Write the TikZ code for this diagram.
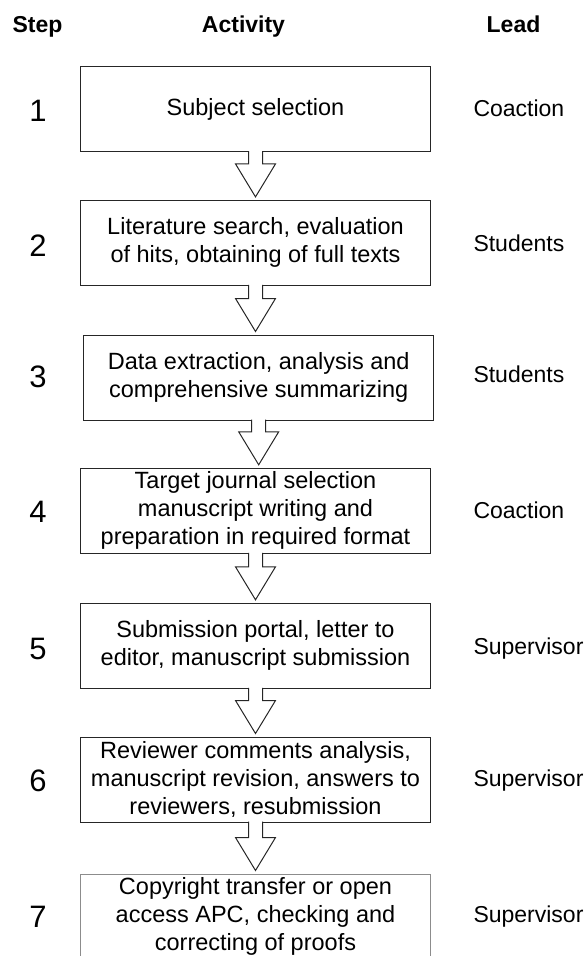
\documentclass[tikz,border=0pt]{standalone}
\usepackage{fontspec}
\setmainfont{Liberation Sans}
\usetikzlibrary{calc}

\begin{document}
\begin{tikzpicture}[x=1pt,y=-1pt,line width=1pt]
    \tikzstyle{activity}=[rectangle,draw=black!85,minimum width=350pt,minimum height=85pt,inner sep=0pt,align=center,font=\fontsize{23.5}{28}\selectfont]
    \tikzstyle{header}=[anchor=base,font=\fontsize{23}{28}\selectfont\bfseries]
    \tikzstyle{stepnum}=[anchor=base,font=\fontsize{31}{36}\selectfont]
    \tikzstyle{lead}=[anchor=base west,inner sep=0pt,font=\fontsize{23}{28}\selectfont]
    \tikzstyle{blockarrow}=[draw=black!85,fill=white,line join=miter]

    \useasboundingbox (0,0) rectangle (587,956);
    \clip (0,0) rectangle (587,956);

    \node[header] (H-step) at (37.5,32) {Step};
    \node[header] (H-act) at (243.5,32) {Activity};
    \node[header] (H-lead) at (513.5,32) {Lead};

    \foreach \num/\x/\y/\txt in {1/255.5/109.2/{Subject selection},
            2/255.5/242.9/{Literature search, evaluation\\of hits, obtaining of full texts},
            3/258.7/377.5/{Data extraction, analysis and\\comprehensive summarizing},
            4/255.5/510.8/{Target journal selection\\manuscript writing and\\preparation in required format},
            5/255.5/645.8/{Submission portal, letter to\\editor, manuscript submission},
            6/255.5/779.5/{Reviewer comments analysis,\\manuscript revision, answers to\\reviewers, resubmission}}
        \node[activity] (A-\num) at (\x,\y) {\txt};
    \node[activity,draw=black!45] (A-7) at (255.5,916.5) {Copyright transfer or open\\access APC, checking and\\correcting of proofs};

    \foreach \num/\y in {1/121, 2/256, 3/387, 4/522.7, 5/659.3, 6/791, 7/927.7}
        \node[stepnum] (S-\num) at (38,\y) {\num};

    \foreach \num/\y/\who in {1/116.6/Coaction, 2/251.4/Students, 3/382.4/Students,
            4/518/Coaction, 5/654/Supervisor, 6/786/Supervisor, 7/922.5/Supervisor}
        \node[lead] (L-\num) at (473,\y) {\who};

    % hollow block arrows between the boxes
    \foreach \from/\to in {1/2, 2/3, 3/4, 4/5, 5/6, 6/7}
        \draw[blockarrow] ($(A-\from.south)+(-7,-1)$)
            -- ($(A-\from.south |- A-\to.north)+(-7,-36)$)
            -- ($(A-\from.south |- A-\to.north)+(-20,-36)$)
            -- ($(A-\from.south |- A-\to.north)+(0,-3)$)
            -- ($(A-\from.south |- A-\to.north)+(20,-36)$)
            -- ($(A-\from.south |- A-\to.north)+(7,-36)$)
            -- ($(A-\from.south)+(7,-1)$);
\end{tikzpicture}
\end{document}
